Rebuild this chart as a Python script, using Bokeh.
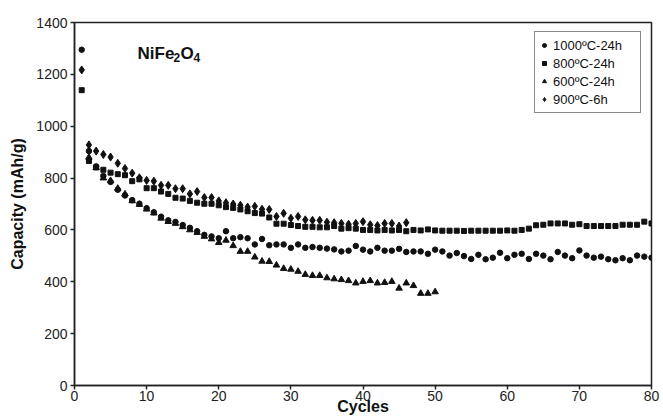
from bokeh.plotting import figure
from bokeh.models import Range1d, FixedTicker, Legend, LegendItem, Label
from bokeh.embed import file_html
from bokeh.resources import INLINE

# ---------------- data ----------------
cycles_1000 = list(range(1, 81))
cap_1000 = [1295, 904, 845, 808, 785, 755, 733, 715, 701, 684,
            668, 651, 637, 631, 619, 608, 595, 581, 575, 568,
            595, 568, 572, 568, 544, 565, 541, 544, 544, 531,
            544, 531, 534, 531, 528, 525, 517, 520, 538, 524,
            517, 531, 520, 520, 527, 515, 517, 517, 508, 524,
            517, 501, 511, 499, 488, 504, 487, 493, 512, 491,
            504, 508, 488, 508, 501, 487, 515, 501, 491, 521,
            501, 493, 497, 487, 483, 491, 483, 501, 497, 493]

cycles_800 = list(range(1, 81))
cap_800 = [1139, 866, 841, 832, 821, 815, 811, 788, 795, 761,
           761, 748, 739, 724, 721, 712, 705, 701, 701, 695,
           688, 685, 679, 672, 665, 663, 648, 624, 624, 619,
           615, 612, 612, 610, 610, 615, 605, 607, 605, 600,
           600, 598, 600, 598, 600, 595, 600, 598, 602, 598,
           597, 597, 597, 596, 597, 597, 597, 597, 597, 598,
           597, 600, 605, 618, 620, 625, 625, 625, 620, 622,
           615, 615, 615, 615, 615, 620, 620, 620, 632, 625]

cycles_600 = list(range(2, 51))
cap_600 = [880, 840, 800, 790, 760, 738, 712, 698, 680,
           665, 645, 632, 625, 612, 600, 590, 575, 565, 551,
           560, 539, 517, 517, 495, 479, 478, 464, 451, 448,
           440, 428, 424, 424, 415, 411, 408, 404, 395, 401,
           404, 395, 397, 401, 375, 395, 385, 355, 355, 361]

cycles_900 = list(range(1, 47))
cap_900 = [1217, 928, 904, 891, 881, 857, 837, 819, 801, 791,
           788, 772, 772, 759, 759, 739, 748, 725, 725, 712,
           705, 700, 695, 688, 691, 680, 679, 652, 664, 645,
           652, 639, 637, 637, 630, 628, 625, 622, 625, 632,
           620, 617, 625, 625, 615, 628]

series_labels = ["1000ºC-24h", "800ºC-24h", "600ºC-24h", "900ºC-6h"]
x_ticks = [0, 10, 20, 30, 40, 50, 60, 70, 80]
y_ticks = [0, 200, 400, 600, 800, 1000, 1200, 1400]

FONT = "Liberation Sans"
INK = "#111111"

p = figure(width=663, height=418, output_backend="svg", toolbar_location=None,
           x_range=Range1d(0, 80), y_range=Range1d(0, 1400),
           min_border_left=74, min_border_right=12, min_border_top=22,
           min_border_bottom=33)
p.grid.visible = False
p.background_fill_color = "white"
p.border_fill_color = "white"
p.outline_line_color = "#222222"
p.outline_line_width = 1.5

for ax in (p.xaxis[0], p.yaxis[0]):
    ax.axis_line_color = "#222222"
    ax.axis_line_width = 1.5
    ax.major_tick_line_color = "#222222"
    ax.major_tick_line_width = 1.5
    ax.major_tick_out = 4
    ax.major_tick_in = 0
    ax.minor_tick_line_color = None
    ax.major_label_text_font = FONT
    ax.major_label_text_font_size = "14px"
    ax.major_label_text_color = "#222222"
    ax.axis_label_text_font = FONT
    ax.axis_label_text_font_size = "16px"
    ax.axis_label_text_font_style = "bold"
    ax.axis_label_text_color = "#111111"

p.xaxis.ticker = FixedTicker(ticks=x_ticks)
p.yaxis.ticker = FixedTicker(ticks=y_ticks)
p.xaxis.axis_label = "Cycles"
p.yaxis.axis_label = "Capacity (mAh/g)"
p.xaxis.major_label_standoff = 1
p.xaxis.axis_label_standoff = -6
p.yaxis.major_label_standoff = 3
p.yaxis.axis_label_standoff = 7

r1 = p.scatter(cycles_1000, cap_1000, marker="circle", size=5.5, color=INK)
r2 = p.scatter(cycles_800, cap_800, marker="square", size=5, color=INK)
r3 = p.scatter(cycles_600, cap_600, marker="triangle", size=6.5, color=INK)
r4 = p.scatter(cycles_900, cap_900, marker="diamond", size=8, color=INK)

legend = Legend(items=[LegendItem(label=series_labels[0], renderers=[r1]),
                       LegendItem(label=series_labels[1], renderers=[r2]),
                       LegendItem(label=series_labels[2], renderers=[r3]),
                       LegendItem(label=series_labels[3], renderers=[r4])],
                location=(460, 272))
legend.label_text_font = FONT
legend.label_text_font_size = "13px"
legend.label_text_color = "#111111"
legend.glyph_width = 10
legend.glyph_height = 12
legend.label_height = 18
legend.label_width = 83
legend.label_standoff = 4
legend.spacing = 0
legend.padding = 4
legend.margin = 0
legend.border_line_color = "#111111"
legend.border_line_width = 1
legend.background_fill_color = "white"
legend.background_fill_alpha = 1
p.add_layout(legend, "center")

# NiFe2O4 annotation with subscripts (screen units, relative to the plot frame)
parts = [("NiFe", 63, 17, 0), ("2", 99, 12, -4), ("O", 106, 17, 0), ("4", 119, 12, -4)]
for txt, xs, fs, dy in parts:
    p.add_layout(Label(x=xs, y=332 + dy, x_units="screen", y_units="screen", text=txt,
                       text_font=FONT, text_font_size=f"{fs}px", text_font_style="bold",
                       text_color="#111111", text_baseline="alphabetic"))

open("out.html", "w").write(file_html(p, INLINE))
